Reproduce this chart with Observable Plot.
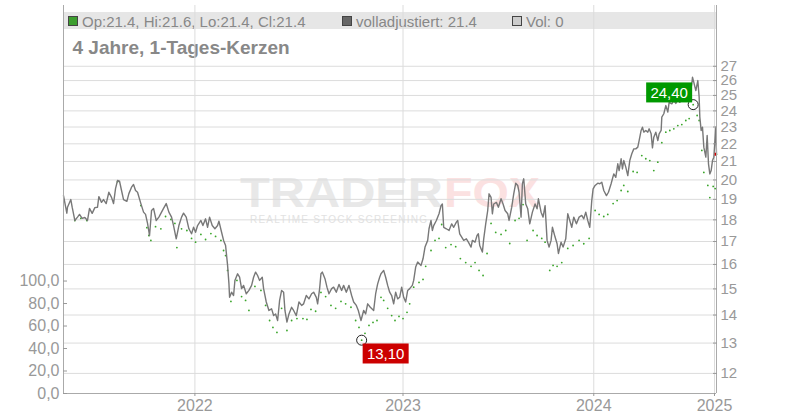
<!DOCTYPE html>
<html><head><meta charset="utf-8">
<script src="https://cdn.jsdelivr.net/npm/d3@7"></script>
<script src="https://cdn.jsdelivr.net/npm/@observablehq/plot@0.6"></script>
<style>
body{margin:0;background:#fff;font-family:"Liberation Sans",Arial,sans-serif;}
#chart{position:relative;width:800px;height:420px;}
#chart svg{position:absolute;left:0;top:0;}
</style></head><body><div id="chart"></div>
<script>
// trading-session index and fully adjusted close (grey line)
const adjDays = [0,5,6,11,13,17,21,24,28,32,36,39,43,47,51,53,57,60,64,68,72,75,78,81,84,87,90,95,98,102,105,108,111,116,120,123,126,129,132,135,139,143,147,150,154,158,162,165,169,173,177,180,184,188,192,195,198,201,206,209,213,216,219,223,227,231,233,237,240,243,246,248,249,252,255,257,261,264,267,270,274,278,282,285,288,291,294,298,300,304,308,312,315,318,321,324,327,330,332,335,338,342,345,349,353,357,360,364,368,372,375,379,381,384,386,388,392,395,398,402,405,409,413,417,420,424,428,432,435,439,442,444,446,450,453,456,460,465,468,471,474,476,480,483,486,489,492,495,498,501,504,507,510,513,516,519,523,525,528,531,536,539,542,546,548,551,553,555,559,563,566,568,570,574,578,582,585,589,591,594,597,600,604,607,611,613,617,620,622,624,628,630,633,636,638,641,643,645,649,652,656,659,662,666,668,672,675,678,681,683,686,688,690,693,696,699,703,707,710,712,716,719,722,725,728,731,733,737,740,742,746,749,753,756,759,762,765,769,773,777,780,783,786,789,792,794,797,801,804,807,810,814,817,821,823,825,828,831,833,836,838,840,843,846,849,852,855,858,861,863,866,868,870,873,876,878,881,883,885,888,891,893,896,897,900,903,906,908,912,915,918,921,924,928,932,935,938,942,943,945,948,951,953,954,956,958,960,963,965,967,969,971,973,975,978,979];
const adjClose = [19.19,18.32,18.61,18.99,18.61,17.97,18.13,18.26,18.07,18.11,17.97,18.55,18.31,18.59,18.61,19.14,18.85,18.99,18.79,19.36,19.10,18.79,19.55,19.97,19.93,19.45,18.99,18.90,19.29,19.62,19.76,19.45,19.36,18.79,18.37,18.26,17.83,17.27,18.45,18.55,17.97,18.13,18.37,18.55,18.79,18.37,18.13,17.73,17.12,17.73,18.13,18.32,18.13,17.58,17.35,17.65,17.42,17.73,17.97,17.73,18.05,17.65,18.13,17.73,17.58,17.73,17.94,17.42,17.05,16.82,15.96,15.22,14.67,14.87,14.74,15.34,15.61,15.47,15.01,15.14,14.81,14.94,15.14,15.47,15.68,15.54,15.34,15.47,15.01,14.49,14.17,14.23,13.98,14.04,13.80,14.55,14.94,14.87,14.17,13.74,14.04,14.29,14.17,13.98,14.49,14.36,14.42,14.74,14.61,14.81,14.87,14.67,14.42,15.01,15.61,15.68,15.41,15.07,14.81,15.01,15.07,14.87,15.18,14.94,15.14,14.87,15.14,14.74,14.49,14.36,14.17,13.98,13.80,14.17,14.04,14.42,14.29,14.17,14.81,15.20,15.47,15.61,15.75,15.47,15.14,14.87,14.74,14.42,14.87,14.61,14.67,15.07,14.67,14.49,14.94,15.01,15.14,15.34,15.89,16.10,15.96,16.24,16.75,17.05,17.58,17.97,17.50,17.73,17.97,18.29,18.69,18.77,17.65,17.58,17.50,17.81,17.65,17.89,17.97,17.35,17.20,17.05,17.12,16.97,16.75,17.05,16.97,17.27,17.35,16.82,16.53,17.12,17.81,18.45,19.28,19.10,18.29,18.77,18.85,18.61,19.03,18.77,18.45,18.29,17.97,18.61,19.28,19.83,19.71,19.36,18.13,19.80,20.06,18.77,18.53,17.81,18.37,18.77,18.53,19.03,18.37,18.13,18.69,17.05,16.75,17.05,17.65,17.20,16.90,16.47,16.97,16.75,17.12,18.29,17.97,17.65,18.13,17.81,18.13,18.21,18.05,18.37,17.97,17.65,18.94,19.53,19.71,19.83,19.80,19.88,19.45,19.19,19.36,19.80,20.06,20.32,20.14,20.87,20.50,21.15,20.59,21.05,20.69,20.23,21.05,21.43,21.71,21.71,21.81,22.19,22.79,22.99,22.69,22.79,22.69,22.89,22.59,21.77,22.39,22.69,22.19,22.59,22.79,23.61,23.82,24.34,23.92,24.55,24.45,24.66,24.48,24.77,24.55,24.88,24.66,24.99,24.77,25.77,26.23,25.88,25.32,26.00,24.88,23.61,22.79,22.99,21.81,21.24,22.49,20.87,20.32,20.50,21.05,21.24,22.99,21.40];
// candle closes (green dots)
const candleDays = [17,26,35,81,116,125,128,131,138,146,153,161,167,170,177,185,192,198,206,213,221,228,236,240,243,246,251,260,267,273,278,287,296,303,309,314,320,327,335,342,350,359,365,371,378,386,393,401,408,416,423,431,438,443,447,452,458,464,470,476,480,486,492,497,503,509,515,519,525,533,539,543,551,557,563,567,573,581,588,595,603,611,617,623,629,635,641,648,656,663,669,677,683,689,695,704,710,717,722,729,734,740,747,756,764,773,780,788,797,803,810,816,824,830,836,840,846,854,860,867,873,879,885,891,897,903,909,915,921,927,933,938,944,950,953,957,960,966,969,974,977,979];
const candleClose = [17.97,18.07,17.97,19.91,18.69,17.63,17.27,17.05,17.68,17.58,18.16,18.02,17.83,16.73,17.58,17.50,17.14,16.97,17.32,17.09,17.36,17.23,17.05,16.60,16.38,15.75,14.51,15.34,14.70,14.55,14.17,15.10,14.94,14.36,13.80,13.55,13.37,14.25,13.44,13.80,13.87,13.87,13.84,14.21,14.14,14.86,14.70,14.36,14.25,14.51,14.42,14.29,13.80,13.55,13.10,13.34,13.62,13.73,13.80,14.67,14.55,14.25,13.98,13.80,13.95,13.87,14.10,14.42,15.07,15.26,15.38,15.92,16.60,17.05,17.14,17.78,16.73,16.86,16.77,16.25,16.08,15.92,16.08,15.75,15.54,16.47,17.83,17.41,17.32,17.50,16.91,17.97,18.07,18.74,17.05,17.50,17.27,17.14,16.97,15.75,15.96,15.92,16.08,16.69,16.82,17.05,16.90,17.14,18.45,18.26,18.16,18.26,18.79,18.94,19.45,19.71,19.40,20.45,20.40,21.33,21.15,21.05,20.50,20.96,22.07,22.69,22.79,22.89,23.09,23.15,23.40,23.52,24.40,23.71,23.40,21.62,20.40,19.71,19.09,19.66,19.55,21.40];
const yearTicks = [197, 509, 795, 976];
const yearLabels = ["2022", "2023", "2024", "2025"];
const priceTicks = [12,13,14,15,16,17,18,19,20,21,22,23,24,25,26,27];
const volTicks = [0, 20, 40, 60, 80, 100];
const extremes = [
  {day: 447, value: 13.10, label: "13,10", color: "#cc0000", dx: 24, dy: 14},
  {day: 944, value: 24.40, label: "24,40", color: "#009900", dx: -24, dy: -11.5}
];
const lastPoint = {day: 979, value: 21.4};
const legendTexts = ["Op:21.4, Hi:21.6, Lo:21.4, Cl:21.4", "volladjustiert: 21.4", "Vol: 0"];
const legendColors = ["#3d9e2f", "#666666", "#cccccc"];
const titleText = "4 Jahre, 1-Tages-Kerzen";

const W = 800, H = 420, mL = 63, mR = 84, mT = 5, mB = 27;
const xDomain = [0, 979];
const yDomain = [11.38, 31.7];
const adj = adjDays.map((d, i) => ({day: d, v: adjClose[i]}));
const cand = candleDays.map((d, i) => ({day: d, v: candleClose[i]}));
const font = "Liberation Sans, Arial, sans-serif";

const main = Plot.plot({
  width: W, height: H, marginLeft: mL, marginRight: mR, marginTop: mT, marginBottom: mB,
  style: {background: "transparent", fontFamily: font},
  x: {type: "linear", domain: xDomain},
  y: {type: "log", domain: yDomain},
  marks: [
    Plot.gridY(priceTicks, {stroke: "#dcdcdc", strokeOpacity: 1}),
    Plot.gridX(yearTicks, {stroke: "#dcdcdc", strokeOpacity: 1}),
    Plot.dot(cand, {x: "day", y: "v", r: 0.9, fill: "#3aa52a", stroke: null}),
    Plot.line(adj, {x: "day", y: "v", stroke: "#787878", strokeWidth: 1.4}),
    Plot.ruleX([xDomain[0], xDomain[1]], {stroke: "#aaa"}),
    Plot.ruleY([yDomain[0]], {stroke: "#aaa"}),
    Plot.ruleY([lastPoint], {y: "value", x1: d => d.day - 2, x2: d => d.day, stroke: "#cc0000", strokeWidth: 3}),
    Plot.axisY(priceTicks, {anchor: "right", tickSize: -4, tickPadding: 8, fontSize: 15, color: "#999", tickFormat: d => String(d), label: null}),
    Plot.axisX(yearTicks, {anchor: "bottom", tickSize: 3, tickPadding: 3, fontSize: 16, color: "#999", tickFormat: d => yearLabels[yearTicks.indexOf(d)], label: null}),
    Plot.dot(extremes, {x: "day", y: "value", r: 5, stroke: "#222", fill: "none", strokeWidth: 1}),
    Plot.text(extremes, {x: "day", y: "value", text: "label", fill: "white", fontSize: 15, className: "xlbl"})
  ]
});

const vol = Plot.plot({
  width: W, height: H, marginLeft: mL, marginRight: mR, marginTop: mT, marginBottom: mB,
  style: {background: "transparent", fontFamily: font},
  x: {domain: xDomain, axis: null},
  y: {domain: [0, 345]},
  marks: [
    Plot.axisY(volTicks, {anchor: "left", tickSize: -4, tickPadding: 8, fontSize: 16, color: "#999", tickFormat: d => d.toFixed(1).replace(".", ","), label: null})
  ]
});

const host = document.getElementById("chart");
host.appendChild(main);
host.appendChild(vol);
vol.style.pointerEvents = "none";

// legend, title and watermark beneath the grid
const svg = d3.select(main);
const bg = svg.insert("g", ":first-child").attr("font-family", font).attr("text-anchor", "start");
bg.append("rect").attr("x", mL).attr("y", 12).attr("width", W - mL - mR + 1).attr("height", 17).attr("fill", "#e6e6e6");
const legX = [68, 342, 512];
legendTexts.forEach((t, i) => {
  bg.append("rect").attr("x", legX[i] + 0.5).attr("y", 16.5).attr("width", 9).attr("height", 9)
    .attr("fill", legendColors[i]).attr("stroke", "#444").attr("stroke-width", 1);
  bg.append("text").attr("x", legX[i] + 14).attr("y", 26.5).attr("font-size", 15).attr("fill", "#888").text(t);
});
bg.append("text").attr("x", 72.5).attr("y", 54).attr("font-size", 19).attr("font-weight", "bold").attr("fill", "#888").text(titleText);
bg.append("text").attr("x", 240).attr("y", 207).attr("font-size", 42).attr("font-weight", "bold").attr("fill", "#e8e8e8")
  .attr("textLength", 203).attr("lengthAdjust", "spacingAndGlyphs").text("TRADER");
bg.append("text").attr("x", 444).attr("y", 207).attr("font-size", 42).attr("font-weight", "bold").attr("fill", "#fbe1e1")
  .attr("textLength", 96).attr("lengthAdjust", "spacingAndGlyphs").text("FOX");
bg.append("text").attr("x", 250).attr("y", 223).attr("font-size", 10).attr("fill", "#e2e2e2")
  .attr("textLength", 177).attr("lengthAdjust", "spacing").text("REALTIME STOCK SCREENING");

// boxed value labels for min / max
svg.selectAll("g.xlbl text").each(function(_, i) {
  const e = extremes[i];
  const t = d3.select(this);
  const tr = t.attr("transform") || "";
  t.attr("transform", tr + ` translate(${e.dx},${e.dy})`);
  const b = this.getBBox();
  const cx = b.x + b.width / 2, cy = b.y + b.height / 2;
  d3.select(this.parentNode).insert("rect", () => this)
    .attr("transform", t.attr("transform"))
    .attr("x", cx - 23).attr("y", cy - 10).attr("width", 46).attr("height", 20).attr("fill", e.color);
});
</script></body></html>
